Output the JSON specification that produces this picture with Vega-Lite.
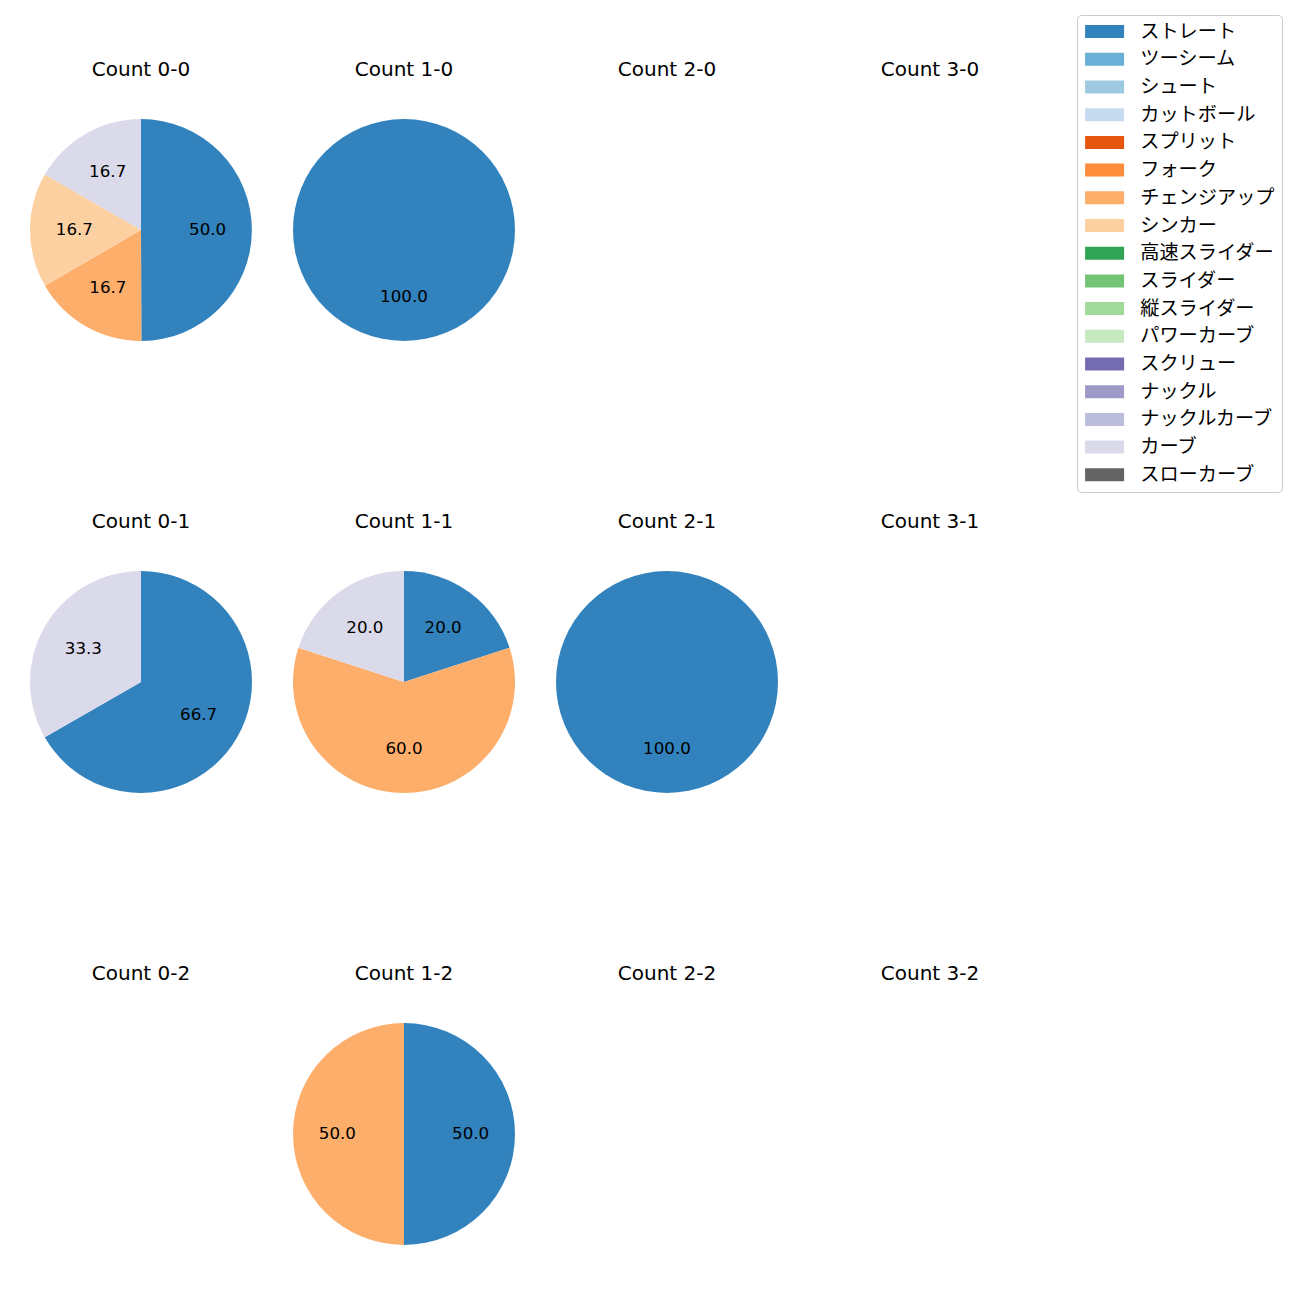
{
  "$schema": "https://vega.github.io/schema/vega-lite/v6.json",
  "padding": {"left": 30, "top": 14, "right": 10, "bottom": 10},
  "background": "white",
  "data": {"values": [
    {"panel": "0-0", "type": "ストレート", "pct": 50.0, "ord": 0},
    {"panel": "0-0", "type": "チェンジアップ", "pct": 16.7, "ord": 6},
    {"panel": "0-0", "type": "シンカー", "pct": 16.7, "ord": 7},
    {"panel": "0-0", "type": "カーブ", "pct": 16.7, "ord": 15},
    {"panel": "1-0", "type": "ストレート", "pct": 100.0, "ord": 0},
    {"panel": "0-1", "type": "ストレート", "pct": 66.7, "ord": 0},
    {"panel": "0-1", "type": "カーブ", "pct": 33.3, "ord": 15},
    {"panel": "1-1", "type": "ストレート", "pct": 20.0, "ord": 0},
    {"panel": "1-1", "type": "チェンジアップ", "pct": 60.0, "ord": 6},
    {"panel": "1-1", "type": "カーブ", "pct": 20.0, "ord": 15},
    {"panel": "2-1", "type": "ストレート", "pct": 100.0, "ord": 0},
    {"panel": "1-2", "type": "ストレート", "pct": 50.0, "ord": 0},
    {"panel": "1-2", "type": "チェンジアップ", "pct": 50.0, "ord": 6}
  ]},
  "config": {
    "view": {"stroke": null},
    "font": "DejaVu Sans",
    "title": {"fontSize": 20, "font": "DejaVu Sans", "fontWeight": "normal", "color": "black", "offset": 39},
    "concat": {"spacing": 41}
  },
  "vconcat": [
    {"hconcat": [
      {"title": "Count 0-0", "width": 222, "height": 222, "transform": [{"filter": "datum.panel === '0-0'"}],
       "encoding": {"theta": {"field": "pct", "type": "quantitative", "stack": "normalize"}, "order": {"field": "ord", "type": "quantitative"},
         "color": {"field": "type", "type": "nominal", "scale": {"domain": ["ストレート","ツーシーム","シュート","カットボール","スプリット","フォーク","チェンジアップ","シンカー","高速スライダー","スライダー","縦スライダー","パワーカーブ","スクリュー","ナックル","ナックルカーブ","カーブ","スローカーブ"], "range": ["#3182bd","#6baed6","#9ecae1","#c6dbef","#e6550d","#fd8d3c","#fdae6b","#fdd0a2","#31a354","#74c476","#a1d99b","#c7e9c0","#756bb1","#9e9ac8","#bcbddc","#dadaeb","#636363"]},
           "legend": {"orient": "none", "legendX": 1047, "legendY": -104, "title": null, "symbolType": "M-1,-0.765H3.588V0.765H-1Z", "symbolSize": 289, "symbolStrokeWidth": 0, "symbolOpacity": 1, "labelFontSize": 19.2, "labelFont": "Noto Sans CJK JP", "labelColor": "black", "labelOffset": 37, "labelLimit": 400, "rowPadding": 7.7, "padding": 7, "strokeColor": "#cccccc", "cornerRadius": 4, "fillColor": "white"}}},
       "layer": [{"mark": {"type": "arc"}}, {"mark": {"type": "text", "radius": 66.6, "fontSize": 16.7, "font": "DejaVu Sans"}, "encoding": {"color": {"value": "black"}, "text": {"field": "pct", "type": "quantitative", "format": ".1f"}}}]},
      {"title": "Count 1-0", "width": 222, "height": 222, "transform": [{"filter": "datum.panel === '1-0'"}],
       "encoding": {"theta": {"field": "pct", "type": "quantitative", "stack": "normalize"}, "order": {"field": "ord", "type": "quantitative"}, "color": {"field": "type", "type": "nominal"}},
       "layer": [{"mark": {"type": "arc"}}, {"mark": {"type": "text", "radius": 66.6, "fontSize": 16.7, "font": "DejaVu Sans"}, "encoding": {"color": {"value": "black"}, "text": {"field": "pct", "type": "quantitative", "format": ".1f"}}}]},
      {"title": "Count 2-0", "width": 222, "height": 222, "transform": [{"filter": "datum.panel === '2-0'"}],
       "encoding": {"theta": {"field": "pct", "type": "quantitative", "stack": "normalize"}, "order": {"field": "ord", "type": "quantitative"}, "color": {"field": "type", "type": "nominal"}},
       "layer": [{"mark": {"type": "arc"}}, {"mark": {"type": "text", "radius": 66.6, "fontSize": 16.7, "font": "DejaVu Sans"}, "encoding": {"color": {"value": "black"}, "text": {"field": "pct", "type": "quantitative", "format": ".1f"}}}]},
      {"title": "Count 3-0", "width": 222, "height": 222, "transform": [{"filter": "datum.panel === '3-0'"}],
       "encoding": {"theta": {"field": "pct", "type": "quantitative", "stack": "normalize"}, "order": {"field": "ord", "type": "quantitative"}, "color": {"field": "type", "type": "nominal"}},
       "layer": [{"mark": {"type": "arc"}}, {"mark": {"type": "text", "radius": 66.6, "fontSize": 16.7, "font": "DejaVu Sans"}, "encoding": {"color": {"value": "black"}, "text": {"field": "pct", "type": "quantitative", "format": ".1f"}}}]}
    ]},
    {"hconcat": [
      {"title": "Count 0-1", "width": 222, "height": 222, "transform": [{"filter": "datum.panel === '0-1'"}],
       "encoding": {"theta": {"field": "pct", "type": "quantitative", "stack": "normalize"}, "order": {"field": "ord", "type": "quantitative"}, "color": {"field": "type", "type": "nominal"}},
       "layer": [{"mark": {"type": "arc"}}, {"mark": {"type": "text", "radius": 66.6, "fontSize": 16.7, "font": "DejaVu Sans"}, "encoding": {"color": {"value": "black"}, "text": {"field": "pct", "type": "quantitative", "format": ".1f"}}}]},
      {"title": "Count 1-1", "width": 222, "height": 222, "transform": [{"filter": "datum.panel === '1-1'"}],
       "encoding": {"theta": {"field": "pct", "type": "quantitative", "stack": "normalize"}, "order": {"field": "ord", "type": "quantitative"}, "color": {"field": "type", "type": "nominal"}},
       "layer": [{"mark": {"type": "arc"}}, {"mark": {"type": "text", "radius": 66.6, "fontSize": 16.7, "font": "DejaVu Sans"}, "encoding": {"color": {"value": "black"}, "text": {"field": "pct", "type": "quantitative", "format": ".1f"}}}]},
      {"title": "Count 2-1", "width": 222, "height": 222, "transform": [{"filter": "datum.panel === '2-1'"}],
       "encoding": {"theta": {"field": "pct", "type": "quantitative", "stack": "normalize"}, "order": {"field": "ord", "type": "quantitative"}, "color": {"field": "type", "type": "nominal"}},
       "layer": [{"mark": {"type": "arc"}}, {"mark": {"type": "text", "radius": 66.6, "fontSize": 16.7, "font": "DejaVu Sans"}, "encoding": {"color": {"value": "black"}, "text": {"field": "pct", "type": "quantitative", "format": ".1f"}}}]},
      {"title": "Count 3-1", "width": 222, "height": 222, "transform": [{"filter": "datum.panel === '3-1'"}],
       "encoding": {"theta": {"field": "pct", "type": "quantitative", "stack": "normalize"}, "order": {"field": "ord", "type": "quantitative"}, "color": {"field": "type", "type": "nominal"}},
       "layer": [{"mark": {"type": "arc"}}, {"mark": {"type": "text", "radius": 66.6, "fontSize": 16.7, "font": "DejaVu Sans"}, "encoding": {"color": {"value": "black"}, "text": {"field": "pct", "type": "quantitative", "format": ".1f"}}}]}
    ]},
    {"hconcat": [
      {"title": "Count 0-2", "width": 222, "height": 222, "transform": [{"filter": "datum.panel === '0-2'"}],
       "encoding": {"theta": {"field": "pct", "type": "quantitative", "stack": "normalize"}, "order": {"field": "ord", "type": "quantitative"}, "color": {"field": "type", "type": "nominal"}},
       "layer": [{"mark": {"type": "arc"}}, {"mark": {"type": "text", "radius": 66.6, "fontSize": 16.7, "font": "DejaVu Sans"}, "encoding": {"color": {"value": "black"}, "text": {"field": "pct", "type": "quantitative", "format": ".1f"}}}]},
      {"title": "Count 1-2", "width": 222, "height": 222, "transform": [{"filter": "datum.panel === '1-2'"}],
       "encoding": {"theta": {"field": "pct", "type": "quantitative", "stack": "normalize"}, "order": {"field": "ord", "type": "quantitative"}, "color": {"field": "type", "type": "nominal"}},
       "layer": [{"mark": {"type": "arc"}}, {"mark": {"type": "text", "radius": 66.6, "fontSize": 16.7, "font": "DejaVu Sans"}, "encoding": {"color": {"value": "black"}, "text": {"field": "pct", "type": "quantitative", "format": ".1f"}}}]},
      {"title": "Count 2-2", "width": 222, "height": 222, "transform": [{"filter": "datum.panel === '2-2'"}],
       "encoding": {"theta": {"field": "pct", "type": "quantitative", "stack": "normalize"}, "order": {"field": "ord", "type": "quantitative"}, "color": {"field": "type", "type": "nominal"}},
       "layer": [{"mark": {"type": "arc"}}, {"mark": {"type": "text", "radius": 66.6, "fontSize": 16.7, "font": "DejaVu Sans"}, "encoding": {"color": {"value": "black"}, "text": {"field": "pct", "type": "quantitative", "format": ".1f"}}}]},
      {"title": "Count 3-2", "width": 222, "height": 222, "transform": [{"filter": "datum.panel === '3-2'"}],
       "encoding": {"theta": {"field": "pct", "type": "quantitative", "stack": "normalize"}, "order": {"field": "ord", "type": "quantitative"}, "color": {"field": "type", "type": "nominal"}},
       "layer": [{"mark": {"type": "arc"}}, {"mark": {"type": "text", "radius": 66.6, "fontSize": 16.7, "font": "DejaVu Sans"}, "encoding": {"color": {"value": "black"}, "text": {"field": "pct", "type": "quantitative", "format": ".1f"}}}]}
    ]}
  ],
  "spacing": 171
}
